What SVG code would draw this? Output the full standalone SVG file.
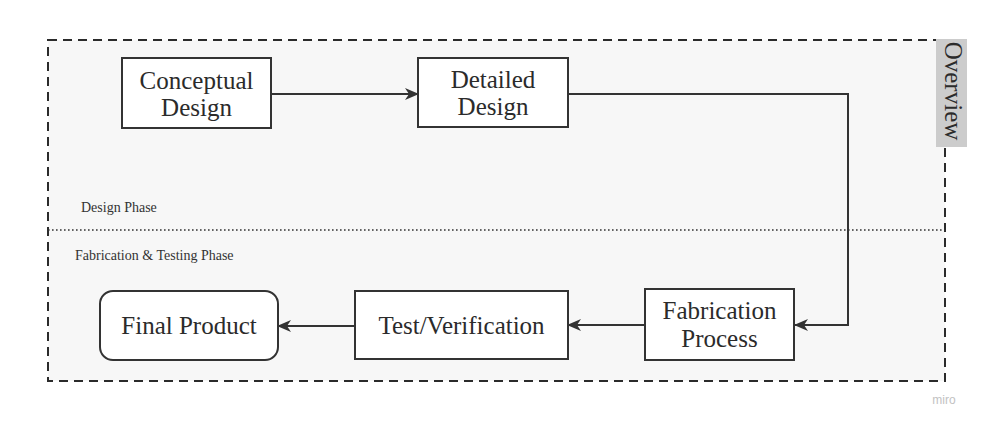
<svg xmlns="http://www.w3.org/2000/svg" width="1001" height="425" viewBox="0 0 1001 425">
  <style>
    .box { fill: #ffffff; stroke: #333333; stroke-width: 2; }
    .label { font-family: "Liberation Serif", "Times New Roman", serif; font-size: 25px; fill: #2b2b2b; text-anchor: middle; }
    .phase { font-family: "Liberation Serif", "Times New Roman", serif; font-size: 14px; fill: #333333; }
    .edge { fill: none; stroke: #333333; stroke-width: 2; }
  </style>
  <defs>
    <marker id="arrow" viewBox="0 0 14 12" refX="13" refY="6" markerWidth="14" markerHeight="12" markerUnits="userSpaceOnUse" orient="auto">
      <path d="M0,0 L14,6 L0,12 L4,6 Z" fill="#333333"/>
    </marker>
  </defs>

  <rect x="0" y="0" width="1001" height="425" fill="#ffffff"/>

  <!-- frame -->
  <g id="frame">
    <rect x="48" y="40" width="897" height="341" fill="#f7f7f7" stroke="#2b2b2b" stroke-width="2" stroke-dasharray="9 6"/>
    <line x1="48" y1="230" x2="945" y2="230" stroke="#333333" stroke-width="1.6" stroke-dasharray="1.6 2.4"/>
    <rect x="936" y="39" width="31" height="108" fill="#cccccc"/>
    <text class="label" transform="translate(951 91) rotate(90)" dominant-baseline="middle">Overview</text>
    <text class="phase" x="81" y="212">Design Phase</text>
    <text class="phase" x="75" y="260">Fabrication &amp; Testing Phase</text>
  </g>

  <!-- connectors -->
  <g id="connectors">
    <line class="edge" x1="271" y1="94" x2="418" y2="94" marker-end="url(#arrow)"/>
    <polyline class="edge" points="568,94 848,94 848,325 795,325" marker-end="url(#arrow)"/>
    <line class="edge" x1="645" y1="325" x2="568" y2="325" marker-end="url(#arrow)"/>
    <line class="edge" x1="355" y1="326" x2="278" y2="326" marker-end="url(#arrow)"/>
  </g>

  <g id="conceptual-design">
    <rect class="box" x="122" y="58" width="149" height="70"/>
    <text class="label" x="196.5" y="89">Conceptual</text>
    <text class="label" x="196.5" y="116">Design</text>
  </g>

  <g id="detailed-design">
    <rect class="box" x="418" y="58" width="150" height="69"/>
    <text class="label" x="493" y="88">Detailed</text>
    <text class="label" x="493" y="115">Design</text>
  </g>

  <g id="fabrication-process">
    <rect class="box" x="645" y="289" width="149" height="71"/>
    <text class="label" x="719.5" y="319">Fabrication</text>
    <text class="label" x="719.5" y="347">Process</text>
  </g>

  <g id="test-verification">
    <rect class="box" x="355" y="291" width="213" height="68"/>
    <text class="label" x="461.5" y="334">Test/Verification</text>
  </g>

  <g id="final-product">
    <rect class="box" x="100" y="291" width="178" height="69" rx="13"/>
    <text class="label" x="189" y="334">Final Product</text>
  </g>

  <text x="944" y="404" font-family="Liberation Sans, Arial, sans-serif" font-size="12" fill="#c2c2c2" text-anchor="middle">miro</text>
</svg>
